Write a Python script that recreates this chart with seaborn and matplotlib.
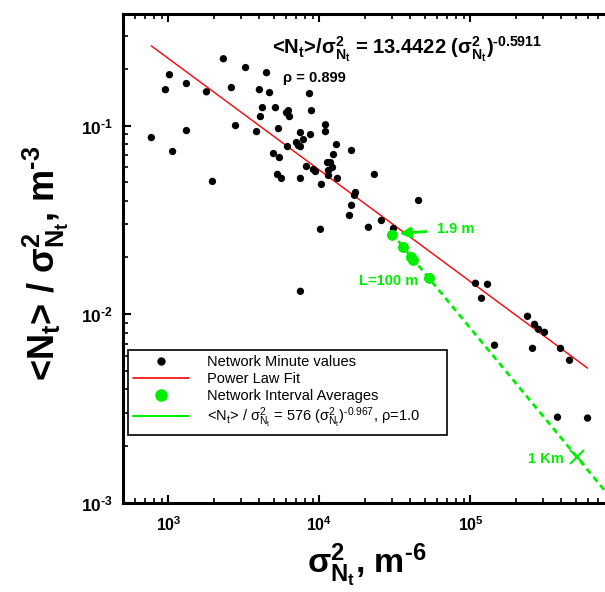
import matplotlib
matplotlib.use("Agg")
import matplotlib.pyplot as plt
from matplotlib.lines import Line2D
from matplotlib.ticker import FuncFormatter, LogLocator, FixedLocator
import numpy as np
import pandas as pd
import seaborn as sns


# network minute values: sigma^2 (m^-6) and <N>/sigma^2 (m^-3)
minute_var = [770, 955, 1015, 1065, 1315, 1315, 1785, 1955, 2310, 2610, 2780, 3240,
              3830, 4000, 4065, 4190, 4460, 4670, 4960, 5110, 5270, 5350, 5430, 5600,
              6050, 6230, 6330, 6140, 7040, 7260, 7480, 7480, 7480, 7830, 8200, 8590,
              8720, 8850, 9120, 9410, 10150, 10300, 10960, 10960, 11300, 11830, 12190,
              11470, 11470, 12380, 12960, 13150, 16300, 17320, 17060, 16300, 15800,
              21100, 23100, 25700, 30900, 45300, 107900, 118300, 129600, 144200,
              238500, 257400, 265400, 281900, 309000, 394500, 452500, 376700, 595700, 7480]
minute_ratio = [0.0864, 0.155, 0.186, 0.0729, 0.167, 0.0941, 0.151, 0.0506, 0.226, 0.159,
                0.100, 0.203, 0.0929, 0.155, 0.1116, 0.1245, 0.1907, 0.1495, 0.0711, 0.1245,
                0.0551, 0.0964, 0.0677, 0.0525, 0.117, 0.120, 0.1116, 0.0774, 0.0813, 0.0784,
                0.0918, 0.0774, 0.0525, 0.0843, 0.0607, 0.1477, 0.0896, 0.120, 0.0585, 0.0571,
                0.0282, 0.0488, 0.101, 0.0929, 0.0637, 0.0637, 0.060, 0.0578, 0.0544, 0.0702,
                0.0793, 0.0525, 0.0738, 0.0442, 0.0427, 0.0378, 0.0334, 0.0289, 0.0551, 0.0314,
                0.0285, 0.0401, 0.0146, 0.01216, 0.01442, 0.00686, 0.00976, 0.0066, 0.00885,
                0.00833, 0.00803, 0.0066, 0.00571, 0.00285, 0.00282, 0.01324]

# network interval averages
interval_var = [30400, 36000, 40600, 41900, 53500]
interval_ratio = [0.0262, 0.0226, 0.0200, 0.0193, 0.0155]

# power law fits  y = a * x^b
fit_a, fit_b = 13.4422, -0.5911
fit_range = [770, 5.96e5]
avg_a, avg_b = 576, -0.967
avg_range = [3.0e4, 1.0e6]

# 1 km point on the interval fit
km_var, km_ratio = 5.1e5, 1.75e-3

x_labels_at = [1e3, 1e4, 1e5]

GREEN = "#00ee00"
HY = "\u2010"  # short hyphen for exponents

sns.set_theme(style="ticks")
plt.rcParams["font.family"] = ["Liberation Sans", "DejaVu Sans"]
plt.rcParams["mathtext.fontset"] = "custom"
plt.rcParams["mathtext.rm"] = "Liberation Sans"
plt.rcParams["mathtext.it"] = "Liberation Sans:italic"
plt.rcParams["mathtext.bf"] = "Liberation Sans:bold"
plt.rcParams["mathtext.default"] = "regular"
for key in ["text.color", "axes.labelcolor", "xtick.color", "ytick.color", "axes.edgecolor"]:
    plt.rcParams[key] = "black"

fig = plt.figure(figsize=(6.05, 5.92), dpi=100)
ax = fig.add_axes([0.2033, 0.1503, 0.824, 0.826])
ax.set_xscale("log")
ax.set_yscale("log")

minute = pd.DataFrame({"var": minute_var, "ratio": minute_ratio})
interval = pd.DataFrame({"var": interval_var, "ratio": interval_ratio})

fit_x = np.array(fit_range)
avg_x = np.array(avg_range)

sns.lineplot(x=fit_x, y=fit_a * fit_x ** fit_b, color="red", lw=1.0, ax=ax)
avg_line = sns.lineplot(x=avg_x, y=avg_a * avg_x ** avg_b, color=GREEN, lw=2.0, ax=ax).lines[-1]
avg_line.set_dashes((2.2, 1.6))
sns.scatterplot(data=minute, x="var", y="ratio", color="black", s=28,
                edgecolor="none", ax=ax, legend=False, zorder=3)
sns.scatterplot(data=interval, x="var", y="ratio", color=GREEN, s=62,
                edgecolor="none", ax=ax, legend=False, zorder=4)
ax.plot([km_var], [km_ratio], marker="x", color=GREEN, markersize=10, mew=1.5, ls="none")

ax.set_xlim(500, 1.0e6)
ax.set_ylim(1e-3, 0.39)

# ticks
ax.xaxis.set_major_locator(FixedLocator(x_labels_at))
ax.yaxis.set_major_locator(LogLocator(base=10, numticks=10))
ax.xaxis.set_minor_locator(LogLocator(base=10, subs=np.arange(2, 10), numticks=20))
ax.yaxis.set_minor_locator(LogLocator(base=10, subs=np.arange(2, 10), numticks=20))


def exp_label(v, pos):
    e = round(np.log10(v))
    s = str(abs(e)) if e >= 0 else HY + str(abs(e))
    return r"$\mathbf{10^{%s}}$" % s


fmt = FuncFormatter(exp_label)
ax.xaxis.set_major_formatter(fmt)
ax.yaxis.set_major_formatter(fmt)
ax.tick_params(which="both", direction="in", top=True, right=True, colors="black")
ax.tick_params(which="major", length=6, width=1.5, labelsize=11.5)
ax.tick_params(which="minor", length=3.5, width=1.2)
ax.tick_params(axis="y", which="major", labelsize=12.5)
ax.tick_params(axis="x", which="major", pad=9)
ax.tick_params(axis="y", which="major", pad=7)
for sp in ax.spines.values():
    sp.set_linewidth(2.2)
    sp.set_color("black")

ax.set_xlabel(r"σ$^\mathbf{2}_\mathbf{N_t}$, m$^\mathbf{" + HY + "6}$",
              fontsize=24.5, fontweight="bold")
ax.set_ylabel(r"<N$_\mathbf{t}$> / σ$^\mathbf{2}_\mathbf{N_t}$, m$^\mathbf{" + HY + "3}$",
              fontsize=26, fontweight="bold")
ax.xaxis.set_label_coords(0.4895, -0.080)
ax.yaxis.set_label_coords(-0.104, 0.49)

# fit annotations
ax.text(0.570, 0.928,
        r"<N$_\mathbf{t}$>/σ$^\mathbf{2}_\mathbf{N_t}$ = 13.4422 (σ$^\mathbf{2}_\mathbf{N_t}$)$^\mathbf{"
        + HY + "0.5911}$",
        transform=ax.transAxes, ha="center", va="center", fontsize=14.5, fontweight="bold")
ax.text(0.383, 0.869, "ρ = 0.899", transform=ax.transAxes, ha="center", va="center",
        fontsize=10.5, fontweight="bold")

ax.annotate("1.9 m", xy=(33900, 0.0268), xytext=(59600, 0.0282), ha="left", va="center",
            color=GREEN, fontsize=10.5, fontweight="bold",
            arrowprops=dict(arrowstyle="-|>", color=GREEN, lw=2, mutation_scale=16,
                            shrinkA=5, shrinkB=0))
ax.text(28600, 0.01496, "L=100 m", ha="center", va="center", color=GREEN,
        fontsize=10.5, fontweight="bold")
ax.text(314000, 0.00171, "1 Km", ha="center", va="center", color=GREEN,
        fontsize=10.5, fontweight="bold")

handles = [
    Line2D([], [], ls="none", marker="o", color="black", markersize=5),
    Line2D([], [], color="red", lw=1.2),
    Line2D([], [], ls="none", marker="o", color=GREEN, markersize=8),
    Line2D([], [], color=GREEN, lw=1.5),
]
labels = [
    "Network Minute values",
    "Power Law Fit",
    "Network Interval Averages",
    r"<N$_t$> / σ$^2_{N_t}$ = 576 (σ$^2_{N_t}$)$^{" + HY + "0.967}$, ρ=1.0",
]
leg = ax.legend(handles, labels, loc="upper left", bbox_to_anchor=(0.010, 0.145, 0.640, 0.168),
                mode="expand", frameon=True, fancybox=False, edgecolor="black", framealpha=1,
                fontsize=10.5, handlelength=3.8, handletextpad=1.3, labelspacing=0.2,
                borderpad=0.35, borderaxespad=0)
leg.get_frame().set_linewidth(1.2)

fig.savefig("out.png", dpi=100)
